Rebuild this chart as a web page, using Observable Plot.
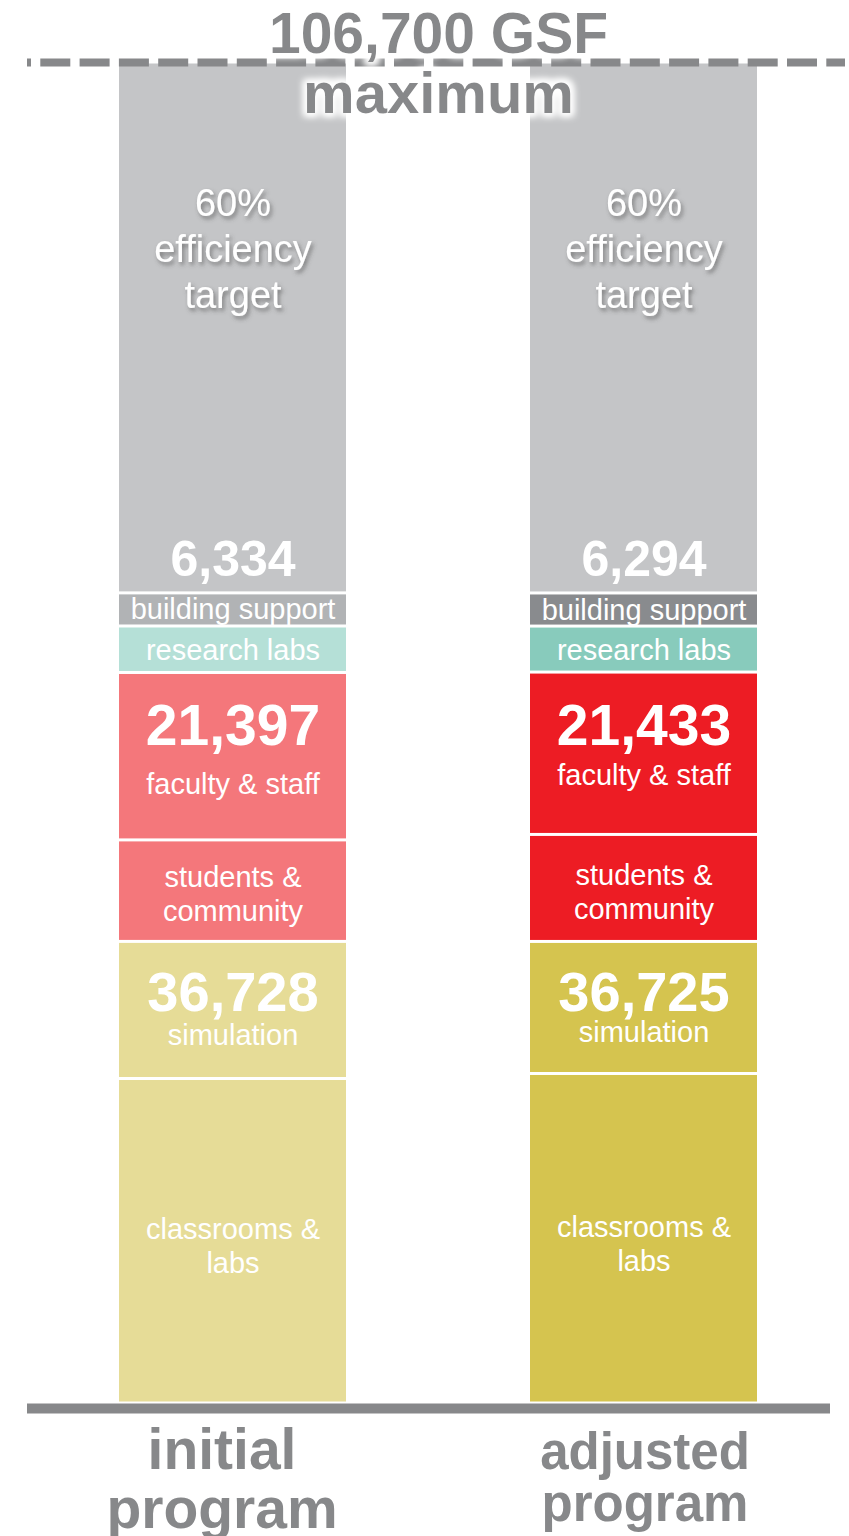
<!DOCTYPE html>
<html>
<head>
<meta charset="utf-8">
<script src="https://cdn.jsdelivr.net/npm/d3@7"></script>
<script src="https://cdn.jsdelivr.net/npm/@observablehq/plot@0.6"></script>
<style>
  body { margin: 0; background: #ffffff; }
</style>
</head>
<body>
<div id="chart"></div>
<script>
// ---------------- data ----------------
const programs = ["initial program", "adjusted program"];
const programLines = [["initial", "program"], ["adjusted", "program"]];
const categories = [
  "classrooms & labs", "simulation", "students & community", "faculty & staff",
  "research labs", "building support", "60% efficiency target"
];
const categoryLabels = [
  "classrooms &\nlabs", "simulation", "students &\ncommunity", "faculty & staff",
  "research labs", "building support", "60%\nefficiency\ntarget"
];
// GSF per segment (bottom to top)
const initialValues = [25820, 10908, 8076, 13321, 3700, 2634, 42241];
const adjustedValues = [26218, 10507, 8514, 12919, 3660, 2634, 42248];
// group totals (classrooms+simulation, students+faculty, research+building)
const totalLabelsInitial = ["36,728", "21,397", "6,334"];
const totalLabelsAdjusted = ["36,725", "21,433", "6,294"];
const maximumGSF = 106700;
const titleLines = ["106,700 GSF", "maximum"];

// ---------------- styles ----------------
const initialColors = ["#e6dc97", "#e6dc97", "#f4777b", "#f4777b", "#b5e0d7", "#b1b3b5", "#c4c5c7"];
const adjustedColors = ["#d5c44f", "#d5c44f", "#ed1c24", "#ed1c24", "#88cbbc", "#898b8e", "#c4c5c7"];
const gray = "#87888a";
const font = "'Liberation Sans', Arial, Helvetica, sans-serif";

const valuesByProgram = [initialValues, adjustedValues];
const colorsByProgram = [initialColors, adjustedColors];
const totalsByProgram = [totalLabelsInitial, totalLabelsAdjusted];

const segments = [];
programs.forEach((p, pi) => {
  let lo = 0;
  valuesByProgram[pi].forEach((v, ci) => {
    segments.push({program: p, pi, ci, label: categoryLabels[ci], lo, hi: lo + v, mid: lo + v / 2, color: colorsByProgram[pi][ci]});
    lo += v;
  });
});

// label placement (pixel offsets from an anchor value of the segment)
const labelStyle = [
  {anchor: "mid", dy: [32, 32], size: 29, lh: 1.17},
  {anchor: "hi", dy: [103, 100], size: 29, lh: 1.17},
  {anchor: "mid", dy: [29.5, 30.5], size: 29, lh: 1.17},
  {anchor: "lo", dy: [-46.5, -50], size: 29, lh: 1.17},
  {anchor: "mid", dy: [10, 10], size: 29, lh: 1.17},
  {anchor: "mid", dy: [9.5, 9.5], size: 29, lh: 1.17},
  {anchor: "hi", dy: [245, 245], size: 38, lh: 1.2, shadow: true}
];
const totalStyle = [
  {ci: 1, dy: 69, size: 56},
  {ci: 3, dy: 72, size: 57},
  {ci: 5, dy: -17, size: 50}
];
const programLabelStyle = [
  {dx: -11, size: 57, dy: [65, 124]},
  {dx: 1, size: 51, dy: [65, 117]}
];

const marks = [];
marks.push(Plot.barY(segments, {
  x: "program", y1: "lo", y2: "hi", fill: "color", insetTop: 1.5, insetBottom: 1.5
}));

programs.forEach((p, pi) => {
  labelStyle.forEach((s, ci) => {
    marks.push(Plot.text(segments.filter(d => d.pi === pi && d.ci === ci), {
      x: "program", y: s.anchor, text: "label", dy: s.dy[pi],
      fontSize: s.size, lineHeight: s.lh, lineAnchor: "bottom",
      fill: "white", fontFamily: font,
      ariaDescription: s.shadow ? "shadow" : "label"
    }));
  });
  totalStyle.forEach((s, gi) => {
    marks.push(Plot.text(segments.filter(d => d.pi === pi && d.ci === s.ci), {
      x: "program", y: "hi", text: () => totalsByProgram[pi][gi], dy: s.dy,
      fontSize: s.size, fontWeight: "bold", lineAnchor: "bottom",
      fill: "white", fontFamily: font
    }));
  });
  const ps = programLabelStyle[pi];
  programLines[pi].forEach((line, li) => {
    marks.push(Plot.text([programs[pi]], {
      x: d => d, y: () => 0, text: () => line, dx: ps.dx, dy: ps.dy[li],
      fontSize: ps.size, fontWeight: "bold", lineAnchor: "bottom", fill: gray, fontFamily: font
    }));
  });
});

// maximum dashed line and base line
marks.push(Plot.ruleY([maximumGSF], {
  stroke: gray, strokeWidth: 8, strokeDasharray: "30,9.3", strokeDashoffset: 26, insetRight: 4
}));
marks.push(Plot.ruleY([0], {stroke: gray, strokeWidth: 10, dy: 5, insetRight: 19}));

// title lines
marks.push(Plot.text([maximumGSF], {
  y: d => d, text: () => titleLines[0], dy: -10, fontSize: 57, fontWeight: "bold",
  lineAnchor: "bottom", fill: gray, fontFamily: font, ariaDescription: "glow"
}));
marks.push(Plot.text([maximumGSF], {
  y: d => d, text: () => titleLines[1], dy: 50, fontSize: 58, fontWeight: "bold",
  lineAnchor: "bottom", fill: gray, fontFamily: font, ariaDescription: "glow"
}));

const svg = Plot.plot({
  width: 849,
  height: 1536,
  marginLeft: 27,
  marginRight: 0,
  marginTop: 62,
  marginBottom: 133,
  style: {fontFamily: font, background: "white", overflow: "visible"},
  x: {domain: programs, paddingInner: 0.4466, paddingOuter: 0.2209, align: 0.5, axis: null},
  y: {domain: [0, maximumGSF], axis: null},
  color: {type: "identity"},
  marks
});

const defs = d3.select(svg).insert("defs", ":first-child");
defs.html(`
  <filter id="glow" x="-20%" y="-60%" width="140%" height="220%">
    <feMorphology in="SourceAlpha" operator="dilate" radius="3" result="d"/>
    <feGaussianBlur in="d" stdDeviation="3.5" result="b"/>
    <feFlood flood-color="#ffffff" flood-opacity="0.95"/>
    <feComposite in2="b" operator="in" result="g"/>
    <feMerge><feMergeNode in="g"/><feMergeNode in="g"/><feMergeNode in="SourceGraphic"/></feMerge>
  </filter>
  <filter id="shadow" x="-20%" y="-20%" width="140%" height="140%">
    <feDropShadow dx="2" dy="3" stdDeviation="2" flood-color="#4a4a4a" flood-opacity="0.6"/>
  </filter>
`);
d3.select(svg).selectAll('g[aria-description="glow"]').attr("filter", "url(#glow)");
d3.select(svg).selectAll('g[aria-description="shadow"]').attr("filter", "url(#shadow)");

document.getElementById("chart").appendChild(svg);
</script>
</body>
</html>
